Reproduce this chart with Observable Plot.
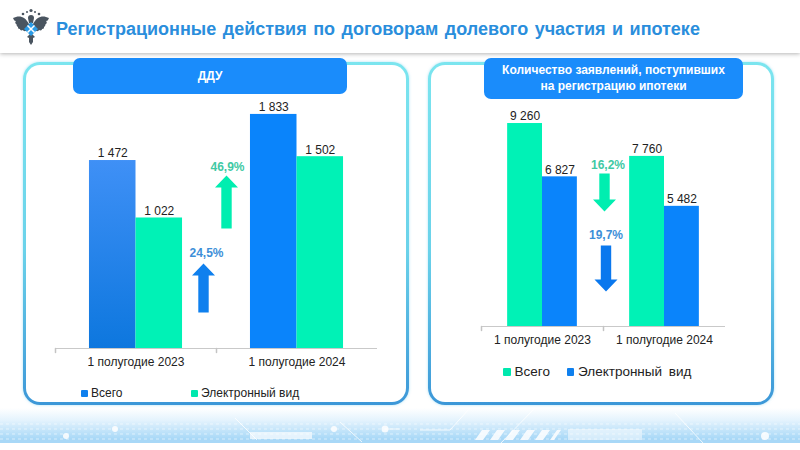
<!DOCTYPE html>
<html lang="ru">
<head>
<meta charset="utf-8">
<script src="https://cdn.jsdelivr.net/npm/d3@7"></script>
<script src="https://cdn.jsdelivr.net/npm/@observablehq/plot@0.6"></script>
<style>
html,body{margin:0;padding:0;background:#fff;}
#page{position:relative;width:800px;height:450px;overflow:hidden;background:#fff;font-family:"Liberation Sans",Arial,sans-serif;}
#header{position:absolute;left:0;top:0;width:800px;height:53px;background:#fff;box-shadow:0 1px 4px rgba(90,90,90,.45);}
#title{position:absolute;left:56px;top:17px;margin:0;font-size:18px;font-weight:bold;line-height:24px;color:#2a8edc;white-space:nowrap;word-spacing:1.5px;}
#logo{position:absolute;left:12px;top:8px;}
#footer{position:absolute;left:0;top:408px;}
.panel{position:absolute;top:62px;height:337px;box-sizing:content-box;border:3px solid transparent;border-radius:17px;
 background:linear-gradient(#fff,#fff) padding-box,linear-gradient(#7be5ef 0%,#6ad2ea 55%,#3c97d8 100%) border-box;box-shadow:0 0 3px rgba(120,210,240,.6);}
.head{position:absolute;top:57.5px;background:#1a8cfb;border-radius:7px;color:#fff;font-weight:bold;font-size:12px;line-height:16px;display:flex;align-items:center;justify-content:center;text-align:center;}
.chart{position:absolute;}
.chart svg{overflow:visible;background:transparent;display:block;}
.legend{position:absolute;color:#222;display:flex;align-items:center;white-space:nowrap;}
.legend i{display:block;border-radius:1px;}
</style>
</head>
<body>
<div id="page">
  <svg width="0" height="0" style="position:absolute">
    <defs>
      <linearGradient id="barGrad" x1="0" y1="0" x2="0" y2="1">
        <stop offset="0" stop-color="#3f90f6"/><stop offset="1" stop-color="#0d77de"/>
      </linearGradient>
    </defs>
  </svg>
  <svg id="footer" width="800" height="42" viewBox="0 0 800 42">
    <defs>
      <linearGradient id="footGrad" x1="0" y1="0" x2="0" y2="1">
        <stop offset="0" stop-color="#fff"/><stop offset=".35" stop-color="#e4f3fd"/><stop offset=".88" stop-color="#a8d8f7"/>
      </linearGradient>
      <pattern id="dots" width="6" height="5" patternUnits="userSpaceOnUse"><rect width="3" height="2" fill="#fff" opacity=".5"/></pattern>
    </defs>
    <rect width="800" height="35" fill="url(#footGrad)"/>
    <rect y="13" width="800" height="21" fill="url(#dots)" opacity=".55"/>
    <g fill="#fff" opacity=".85">
      <path d="M475 32l7-10h8l-7 10zM490 32l7-10h8l-7 10zM505 32l7-10h8l-7 10zM520 32l7-10h8l-7 10zM535 32l7-10h8l-7 10zM550 32l7-10h4l-7 10z"/>
      <rect x="568" y="21" width="74" height="11" opacity=".6"/>
      <rect x="250" y="24" width="62" height="7" opacity=".8"/>
      <circle cx="334" cy="21" r="3"/><circle cx="385" cy="21" r="3.5"/><circle cx="66" cy="28" r="3"/><circle cx="115" cy="21" r="3"/><circle cx="765" cy="28" r="4"/>
    </g>
    <g stroke="#fff" stroke-width="1" opacity=".8" fill="none">
      <path d="M385 21h15M235 10l22 22M340 14l22 20M420 22h30l20-22M500 36l35-36M675 5l28 30"/>
    </g>
  </svg>
  <div id="header">
    <svg id="logo" width="38" height="38" viewBox="0 0 38 38">
      <g fill="#4a5560">
        <path d="M17 16C13 8 7 7 1 10c1 2 1 3 3 3-1 1-1 2 0 3 1 0 0 2 2 3 0 1 0 2 2 2 0 1 1 2 3 1 1 2 3 1 5 0l1-5z"/>
        <path d="M21 16c4-8 10-9 16-6-1 2-1 3-3 3 1 1 1 2 0 3-1 0 0 2-2 3 0 1 0 2-2 2 0 1-1 2-3 1-1 2-3 1-5 0l-1-5z"/>
        <path d="M16 10c0-2 1-3 3-3s3 1 3 3l-1 5h-4z"/>
        <path d="M15 29l4-4 4 4-2 1 0 4-2 3-2-3v-4z"/>
        <circle cx="11" cy="6" r="1.3"/><circle cx="27" cy="6" r="1.3"/><circle cx="19" cy="2.5" r="1.6"/><circle cx="15" cy="4" r="1"/><circle cx="23" cy="4" r="1"/>
      </g>
      <path d="M19 14l7 7-7 7-7-7z" fill="#2b9be6"/>
      <path d="M15.5 17.5l7 7M22.5 17.5l-7 7" stroke="#fff" stroke-width="1.5"/>
    </svg>
    <h1 id="title">Регистрационные действия по договорам долевого участия и ипотеке</h1>
  </div>

  <div class="panel" style="left:23px;width:380px"></div>
  <div class="panel" style="left:428px;width:340px"></div>
  <div class="head" style="left:73px;width:274px;height:36.5px">ДДУ</div>
  <div class="head" style="left:484px;width:259px;height:41.5px">Количество заявлений, поступивших<br>на регистрацию ипотеки</div>

  <div class="chart" id="left" style="left:55px;top:90px"></div>
  <div class="chart" id="right" style="left:479.5px;top:90px"></div>

  <div class="legend" style="left:81px;top:386px;font-size:12px;line-height:14px">
    <i style="width:7px;height:7px;background:#0f80ee;margin-right:3px"></i><span style="width:100px">Всего</span>
    <i style="width:7px;height:7px;background:#00e8ae;margin-right:3px"></i><span>Электронный вид</span>
  </div>
  <div class="legend" style="left:503px;top:364px;font-size:13.5px;line-height:16px;word-spacing:3px">
    <i style="width:7.5px;height:7.5px;background:#00e8ae;margin-right:4px"></i><span style="width:52px">Всего</span>
    <i style="width:7.5px;height:7.5px;background:#0f80ee;margin-right:4px"></i><span>Электронный вид</span>
  </div>
</div>
<script>
const periods = ["1 полугодие 2023", "1 полугодие 2024"];
const seriesNames = ["Всего", "Электронный вид"];

const dduTotal = [1472, 1833];
const dduElectronic = [1022, 1502];
const mortgageTotal = [9260, 7760];
const mortgageElectronic = [6827, 5482];

const dduChangeLabels = ["24,5%", "46,9%"];
const dduArrowBase = [282, 940];
const dduArrowLength = [49, 53];
const dduLabelLevel = [744, 1417];

const mortgageChangeLabels = ["16,2%", "19,7%"];
const mortgageArrowBase = [6980, 3695];
const mortgageArrowLength = [38, 46];
const mortgageLabelLevel = [7345, 4150];

const GREEN = "#00f2b6", BLUE = "#0a84fb";
const spaced = d => d3.format(",")(d).replace(/,/g, " ");

const blockArrow = {
  draw(ctx, l) {
    const shaft = 5.2, head = 11.5, hh = 12;
    ctx.moveTo(-shaft, 0);
    ctx.lineTo(-shaft, -l + hh);
    ctx.lineTo(-head, -l + hh);
    ctx.lineTo(0, -l);
    ctx.lineTo(head, -l + hh);
    ctx.lineTo(shaft, -l + hh);
    ctx.lineTo(shaft, 0);
    ctx.closePath();
  }
};

function panel({width, height, yMax, outer, totals, electronic, fills, arrows, changes}) {
  const rows = [];
  periods.forEach((p, i) => {
    rows.push({period: p, series: seriesNames[0], value: totals[i], fill: fills[i][0]});
    rows.push({period: p, series: seriesNames[1], value: electronic[i], fill: fills[i][1]});
  });
  return Plot.plot({
    width, height,
    marginTop: 0, marginLeft: 0, marginRight: 0, marginBottom: 30,
    style: {fontFamily: '"Liberation Sans", Arial, sans-serif', background: "transparent"},
    fx: {domain: periods, padding: 0, label: null, axis: null},
    x: {domain: seriesNames, paddingInner: 0, paddingOuter: outer, axis: null, label: null, round: false},
    y: {domain: [0, yMax], axis: null, label: null},
    color: {type: "identity"},
    marks: [
      Plot.barY(rows, {fx: "period", x: "series", y: "value", fill: "fill"}),
      Plot.ruleY([0], {stroke: "#c9c9c9", strokeWidth: 1.2}),
      Plot.vector(periods, {fx: d => d, frameAnchor: "bottom-left", length: 4, rotate: 180, anchor: "start", shape: "spike", r: 0, stroke: "#c4c4c4", fill: "none"}),
      Plot.axisFx({anchor: "bottom", tickSize: 0, tickPadding: 9, fontSize: 12, fill: "#222", label: null, tickFormat: d => d}),
      Plot.text(rows, {fx: "period", x: "series", y: "value", text: d => spaced(d.value), dy: -7, fontSize: 12, fill: "#222"}),
      ...arrows.map(a => Plot.vector([a], {fx: () => periods[1], y: "base", frameAnchor: "left", dx: a.dx, length: a.len, rotate: a.rot, anchor: "start", shape: blockArrow, fill: a.color, stroke: "none"})),
      ...changes.map(c => Plot.text([c], {fx: () => periods[1], y: "level", frameAnchor: "left", textAnchor: "middle", dx: c.dx, text: "label", fontSize: 12, fontWeight: "bold", fill: c.color}))
    ]
  });
}

document.getElementById("left").append(panel({
  width: 322, height: 288, yMax: 258 / 0.1277, outer: 0.73,
  totals: dduTotal, electronic: dduElectronic,
  fills: [["url(#barGrad)", GREEN], [BLUE, GREEN]],
  arrows: [
    {base: dduArrowBase[0], len: dduArrowLength[0], rot: 0, dx: -13, color: "#0f80ee"},
    {base: dduArrowBase[1], len: dduArrowLength[1], rot: 0, dx: 10, color: "#00eeb0"}
  ],
  changes: [
    {level: dduLabelLevel[0], label: dduChangeLabels[0], dx: -10, color: "#3d8fd8"},
    {level: dduLabelLevel[1], label: dduChangeLabels[1], dx: 11, color: "#3fc9a4"}
  ]
}));

document.getElementById("right").append(panel({
  width: 245, height: 266, yMax: 236 / 0.02192, outer: 0.75,
  totals: mortgageTotal, electronic: mortgageElectronic,
  fills: [[GREEN, BLUE], [GREEN, BLUE]],
  arrows: [
    {base: mortgageArrowBase[0], len: mortgageArrowLength[0], rot: 180, dx: 1, color: "#00eeb0"},
    {base: mortgageArrowBase[1], len: mortgageArrowLength[1], rot: 180, dx: 2.5, color: "#0a78ee"}
  ],
  changes: [
    {level: mortgageLabelLevel[0], label: mortgageChangeLabels[0], dx: 4.5, color: "#3fc9a4"},
    {level: mortgageLabelLevel[1], label: mortgageChangeLabels[1], dx: 2.5, color: "#3d8fd8"}
  ]
}));
</script>
</body>
</html>
